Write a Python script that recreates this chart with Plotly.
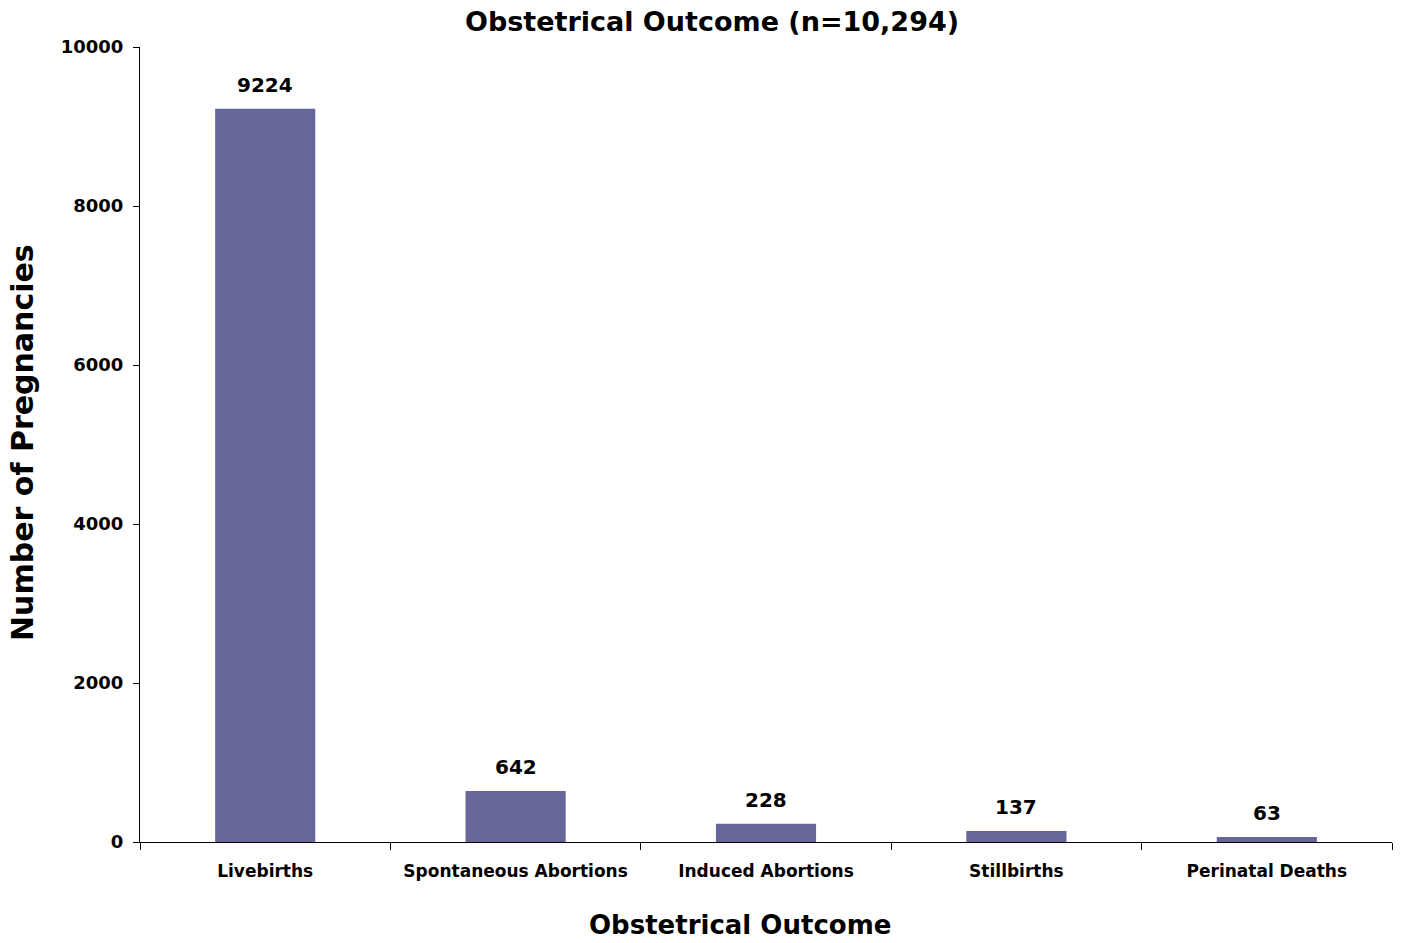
import plotly.graph_objects as go

categories = ["Livebirths", "Spontaneous Abortions", "Induced Abortions", "Stillbirths", "Perinatal Deaths"]
values = [9224, 642, 228, 137, 63]
y_ticks = [0, 2000, 4000, 6000, 8000, 10000]

FONT = "DejaVu Sans"
L, R, T, B = 140, 1392, 47, 842  # plot area in pixels
W, H = 1401, 943

def px_x(p):
    return (p - L) / (R - L)

def px_y(p):
    return (B - p) / (B - T)

fig = go.Figure(go.Bar(
    x=categories, y=values,
    marker=dict(color="#666699", line=dict(width=0)),
    width=0.4,
    cliponaxis=False,
))

for c, v in zip(categories, values):
    fig.add_annotation(x=c, y=v, text=f"<b>{v}</b>", showarrow=False,
                       yanchor="bottom", yshift=10,
                       font=dict(family=FONT, size=20, color="black"))

fig.add_annotation(x=px_x(740), xref="paper", y=px_y(925), yref="paper",
                   text="<b>Obstetrical Outcome</b>",
                   showarrow=False, xanchor="center", yanchor="middle",
                   font=dict(family=FONT, size=26, color="black"))
fig.add_annotation(x=px_x(22), xref="paper", y=px_y(443), yref="paper",
                   text="<b>Number of Pregnancies</b>", textangle=-90,
                   showarrow=False, xanchor="center", yanchor="middle",
                   font=dict(family=FONT, size=30, color="black"))

fig.update_layout(
    width=W, height=H,
    margin=dict(l=L, r=W - R, t=T, b=H - B, autoexpand=False),
    plot_bgcolor="white", paper_bgcolor="white",
    showlegend=False,
    title=dict(text="<b>Obstetrical Outcome (n=10,294)</b>", x=712 / W, xanchor="center",
               y=1 - 22 / H, yanchor="middle", font=dict(family=FONT, size=27, color="black")),
    font=dict(family=FONT, color="black"),
)

fig.update_xaxes(
    showline=True, linecolor="black", linewidth=1,
    ticks="outside", ticklen=7, tickcolor="black", tickson="boundaries",
    ticklabelstandoff=14, automargin=False,
    tickfont=dict(family=FONT, size=17, color="black", weight="bold"),
    showgrid=False,
)
fig.update_yaxes(
    range=[0, 10000], tickvals=y_ticks, ticktext=[str(t) for t in y_ticks],
    showline=True, linecolor="black", linewidth=1,
    ticks="outside", ticklen=6, tickcolor="black", ticklabelstandoff=6,
    automargin=False,
    tickfont=dict(family=FONT, size=18, color="black", weight="bold"),
    showgrid=False, zeroline=False,
)

fig.write_html("out.html")
